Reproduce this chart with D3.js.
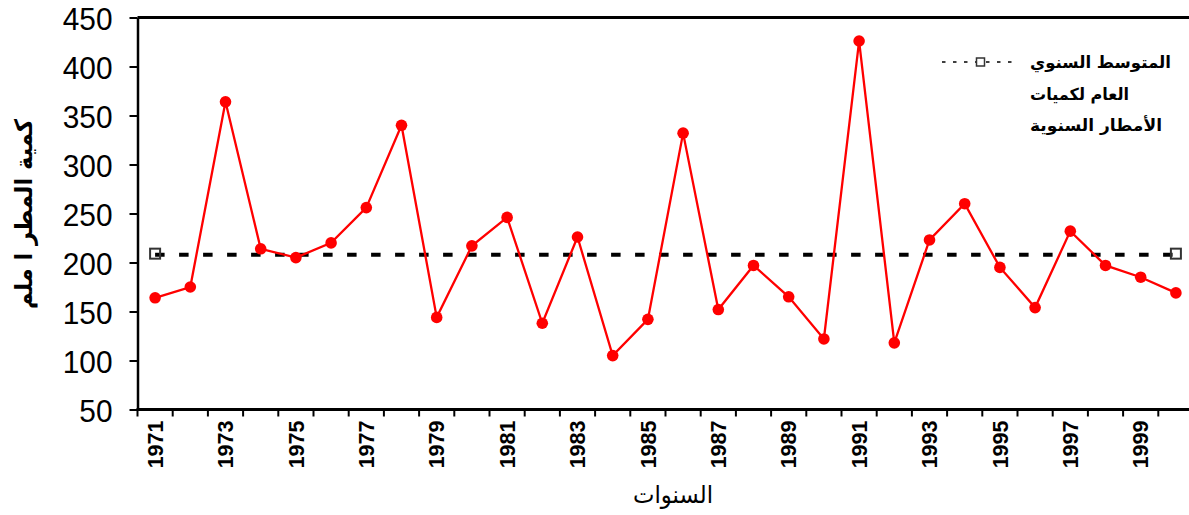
<!DOCTYPE html>
<html><head><meta charset="utf-8">
<script src="https://cdn.jsdelivr.net/npm/d3@7"></script>
<style>
html,body{margin:0;padding:0;background:#fff;overflow:hidden}
svg{display:block}
</style></head>
<body>
<svg id="chart" width="1189" height="515"></svg>
<script>
const years = d3.range(1971, 2001);
const rainfall = [164,175,364,214,205,220,256,340,144,217,246,138,226,105,142,332,152,197,165,122,426,118,223,260,195,154,232,197,185,169];
const meanValue = 208;
const yTicks = [50,100,150,200,250,300,350,400,450];
const xLabelYears = d3.range(1971, 2000, 2);
const legendLines = ["المتوسط السنوي","العام لكميات","الأمطار السنوية"];
const legendWidths = [141, 99, 132];
const yTitle = "كمية المطر ا ملم";
const xTitle = "السنوات";

const svg = d3.select("#chart");
svg.append("rect").attr("width",1189).attr("height",515).attr("fill","#fff");

const x = d3.scaleBand().domain(years).range([137.5, 1193.5]).padding(0);
const y = d3.scaleLinear().domain([50,450]).range([409.5, 17.5]);
const cx = d => x(d) + x.bandwidth()/2;

// frame top
svg.append("line").attr("x1",x.range()[0]).attr("x2",x.range()[1])
  .attr("y1",y(450)).attr("y2",y(450)).attr("stroke","#000").attr("stroke-width",3);

// y axis
const yAxis = svg.append("g").attr("transform",`translate(${x.range()[0]},0)`)
  .call(d3.axisLeft(y).tickValues(yTicks).tickSize(8).tickPadding(17).tickSizeOuter(0));
yAxis.select(".domain").attr("stroke","#000").attr("stroke-width",2.5);
yAxis.selectAll(".tick line").attr("stroke","#000").attr("stroke-width",2);
yAxis.selectAll(".tick text").attr("font-family","'Liberation Sans', Arial, sans-serif")
  .attr("font-size",32).attr("fill","#000").attr("dy","0.36em")
  .attr("textLength", d => String(d).length*16.6).attr("lengthAdjust","spacingAndGlyphs");

// x axis
const xAxisG = svg.append("g").attr("transform",`translate(0,${y(50)})`);
xAxisG.append("line").attr("x1",x.range()[0]-1).attr("x2",x.range()[1])
  .attr("stroke","#000").attr("stroke-width",3);
const tickPos = years.map(d => x(d)).concat([x(years[years.length-1]) + x.bandwidth()]);
xAxisG.selectAll("line.tk").data(tickPos).join("line").attr("class","tk")
  .attr("x1",d=>d).attr("x2",d=>d).attr("y1",0).attr("y2",7)
  .attr("stroke","#000").attr("stroke-width",2);
xAxisG.selectAll("text.xl").data(xLabelYears).join("text").attr("class","xl")
  .attr("transform",d=>`translate(${cx(d)},11) rotate(-90)`)
  .attr("text-anchor","end").attr("dy","0.36em")
  .attr("font-family","'Liberation Sans', Arial, sans-serif").attr("font-weight","bold")
  .attr("font-size",21.5).attr("fill","#000").text(d=>d);

// mean line
const first = years[0], last = years[years.length-1];
svg.append("line").attr("x1",cx(first)).attr("x2",cx(last))
  .attr("y1",y(meanValue)).attr("y2",y(meanValue))
  .attr("stroke","#000").attr("stroke-width",4).attr("stroke-dasharray","9.5,14.5");
svg.selectAll("rect.mm").data([first,last]).join("rect").attr("class","mm")
  .attr("x",d=>cx(d)-5).attr("y",y(meanValue)-6).attr("width",10).attr("height",10)
  .attr("fill","none").attr("stroke","#333").attr("stroke-width",2);

// rainfall line
const line = d3.line().x((d,i)=>cx(years[i])).y(d=>y(d));
svg.append("path").datum(rainfall).attr("d",line).attr("fill","none")
  .attr("stroke","#ff0000").attr("stroke-width",2.3);
svg.selectAll("circle.pt").data(rainfall).join("circle").attr("class","pt")
  .attr("cx",(d,i)=>cx(years[i])).attr("cy",d=>y(d)).attr("r",5.8).attr("fill","#ff0000");

// legend
const lg = svg.append("g");
lg.append("line").attr("x1",942).attr("x2",1019).attr("y1",62).attr("y2",62)
  .attr("stroke","#000").attr("stroke-width",1.6).attr("stroke-dasharray","3.5,7.5");
lg.append("rect").attr("x",976.5).attr("y",58).attr("width",8).attr("height",8)
  .attr("fill","#fff").attr("stroke","#333").attr("stroke-width",1.5);
lg.selectAll("text").data(legendLines).join("text")
  .attr("x",1030).attr("y",(d,i)=>68+i*31.5).attr("text-anchor","start")
  .attr("font-family","'DejaVu Sans', sans-serif").attr("font-weight","bold")
  .attr("font-size",16.5).attr("fill","#000")
  .attr("textLength",(d,i)=>legendWidths[i]).attr("lengthAdjust","spacingAndGlyphs")
  .text(d=>d);

// axis titles
svg.append("text").attr("transform","translate(32,214) rotate(-90)")
  .attr("text-anchor","middle").attr("font-family","'DejaVu Sans', sans-serif")
  .attr("font-weight","bold").attr("font-size",24).attr("fill","#000")
  .attr("textLength",190).attr("lengthAdjust","spacingAndGlyphs").text(yTitle);
svg.append("text").attr("x",673).attr("y",503).attr("text-anchor","middle")
  .attr("font-family","'DejaVu Sans', sans-serif").attr("font-size",24).attr("fill","#000")
  .attr("textLength",80).attr("lengthAdjust","spacingAndGlyphs").text(xTitle);
</script>
</body></html>
